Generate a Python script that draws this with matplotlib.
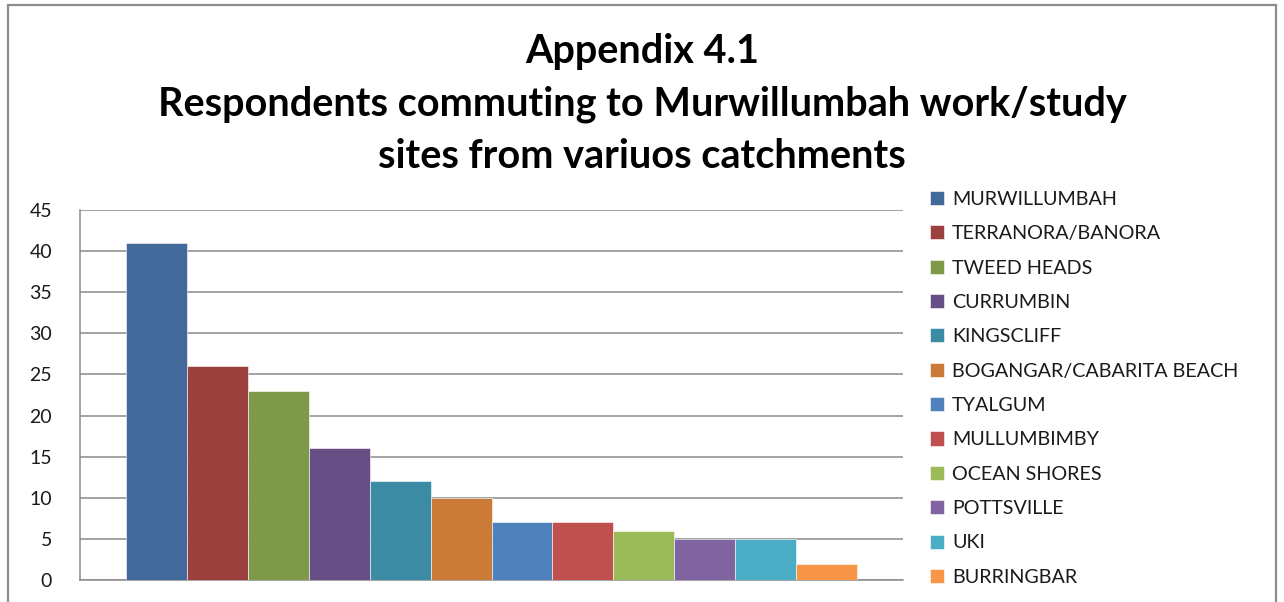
import matplotlib.pyplot as plt
from matplotlib.patches import Rectangle, Patch

plt.rcParams['font.family'] = ['Lato', 'DejaVu Sans']

catchments = ["MURWILLUMBAH", "TERRANORA/BANORA", "TWEED HEADS", "CURRUMBIN",
              "KINGSCLIFF", "BOGANGAR/CABARITA BEACH", "TYALGUM", "MULLUMBIMBY",
              "OCEAN SHORES", "POTTSVILLE", "UKI", "BURRINGBAR"]
respondents = [41, 26, 23, 16, 12, 10, 7, 7, 6, 5, 5, 2]
colours = ["#416a9b", "#9c403d", "#7e9a48", "#674f85", "#3a8ba3", "#cb7a38",
           "#4f81bd", "#c0504d", "#9bbb59", "#8064a2", "#4bacc6", "#f79646"]
yticks = list(range(0, 50, 5))

title_lines = ["Appendix 4.1",
               "Respondents commuting to Murwillumbah work/study",
               "sites from variuos catchments"]

W, H = 1284, 602
fig = plt.figure(figsize=(W / 100, H / 100), dpi=100)

# chart frame
fig.patches.append(Rectangle((8 / W, -0.05), 1268 / W, 1.05 - 5 / H,
                             transform=fig.transFigure, fill=False,
                             edgecolor="#8c8c8c", linewidth=1.6))

ax = fig.add_axes([80 / W, (H - 580) / H, 823 / W, 370 / H])
for i, (v, c) in enumerate(zip(respondents, colours)):
  ax.bar(i, v, width=1.0, color=c, edgecolor="white", linewidth=0.4,
         label=catchments[i], zorder=3)

ax.set_xlim(-1.25, 12.25)
ax.set_ylim(0, 45)
ax.set_yticks(yticks)
ax.set_xticks([])
ax.grid(axis="y", color="#8a8a8a", linewidth=1.1, zorder=0)
for s in ["top", "right"]:
  ax.spines[s].set_visible(False)
for s in ["left", "bottom"]:
  ax.spines[s].set_color("#8a8a8a")
  ax.spines[s].set_linewidth(1.1)
ax.tick_params(axis="y", length=0, pad=20, labelsize=14, labelcolor="#1a1a1a")

handles = [Patch(facecolor=c, edgecolor="white", linewidth=0.4) for c in colours]
fig.legend(handles, catchments, loc="upper left",
           bbox_to_anchor=(922 / W, 1 - 183 / H), frameon=False,
           fontsize=14.2, handlelength=0.72, handleheight=0.72,
           handletextpad=0.4, labelspacing=0.88, borderaxespad=0,
           labelcolor="#1a1a1a")

ys = [51, 104, 157]
for t, y in zip(title_lines, ys):
  fig.text(642 / W, 1 - y / H, t, ha="center", va="center",
           fontsize=28.5, fontweight="bold", color="black")

fig.savefig("out.png", dpi=100)
